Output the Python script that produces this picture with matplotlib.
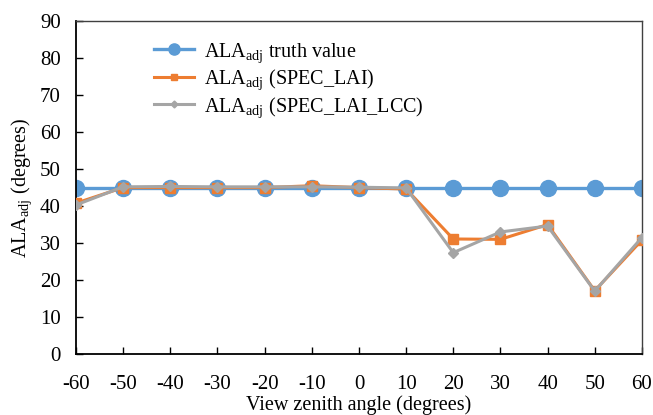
import matplotlib
matplotlib.use("Agg")
from matplotlib import pyplot as plt

plt.rcParams["font.family"] = ["Liberation Serif", "DejaVu Serif"]
plt.rcParams["mathtext.fontset"] = "custom"
plt.rcParams["mathtext.rm"] = "Liberation Serif"
plt.rcParams["axes.unicode_minus"] = False

# view zenith angles and ALA_adj estimates
vza = [-60, -50, -40, -30, -20, -10, 0, 10, 20, 30, 40, 50, 60]
truth = [45] * 13
spec_lai = [40.8, 45.0, 45.0, 45.0, 45.0, 45.5, 45.0, 44.6, 31.1, 31.0, 35.0, 17.1, 30.8]
spec_lai_lcc = [40.3, 45.2, 45.3, 45.2, 45.2, 45.2, 45.1, 44.9, 27.4, 33.0, 34.6, 17.0, 31.5]

fig = plt.figure(figsize=(6.53, 4.15), dpi=100)
ax = fig.add_axes([0.1164, 0.147, 0.8666, 0.802])

ax.plot(vza, truth, color="#5B9BD5", lw=2.4, marker="o", ms=11.5,
        label=r"ALA$_{\rm adj}$ truth value", zorder=2)
ax.plot(vza, spec_lai, color="#ED7D31", lw=2.2, marker="s", ms=7,
        label=r"ALA$_{\rm adj}$ (SPEC_LAI)", zorder=3)
ax.plot(vza, spec_lai_lcc, color="#A5A5A5", lw=2.2, marker="D", ms=5,
        label=r"ALA$_{\rm adj}$ (SPEC_LAI_LCC)", zorder=4)

ax.set_xlim(-60, 60)
ax.set_ylim(0, 90)
ax.set_xticks(range(-60, 61, 10))
ax.set_yticks(range(0, 91, 10))
ax.tick_params(direction="in", labelsize=15, length=5, width=1)
ax.tick_params(axis="x", pad=15)
ax.tick_params(axis="y", pad=11)
for s in ["left", "bottom"]:
    ax.spines[s].set_linewidth(1.3)
for s in ["top", "right"]:
    ax.spines[s].set_color("#404040")
    ax.spines[s].set_linewidth(1.0)

ax.set_xlabel("View zenith angle (degrees)", fontsize=14.5, labelpad=1)
ax.set_ylabel(r"ALA$_{\rm adj}$ (degrees)", fontsize=14.5, labelpad=4)

ax.legend(loc="upper left", bbox_to_anchor=(0.105, 0.995), frameon=False,
          fontsize=14.5, handlelength=2.0, handletextpad=0.5,
          labelspacing=0.13, markerscale=0.7)

plt.savefig("out.png", dpi=100)
